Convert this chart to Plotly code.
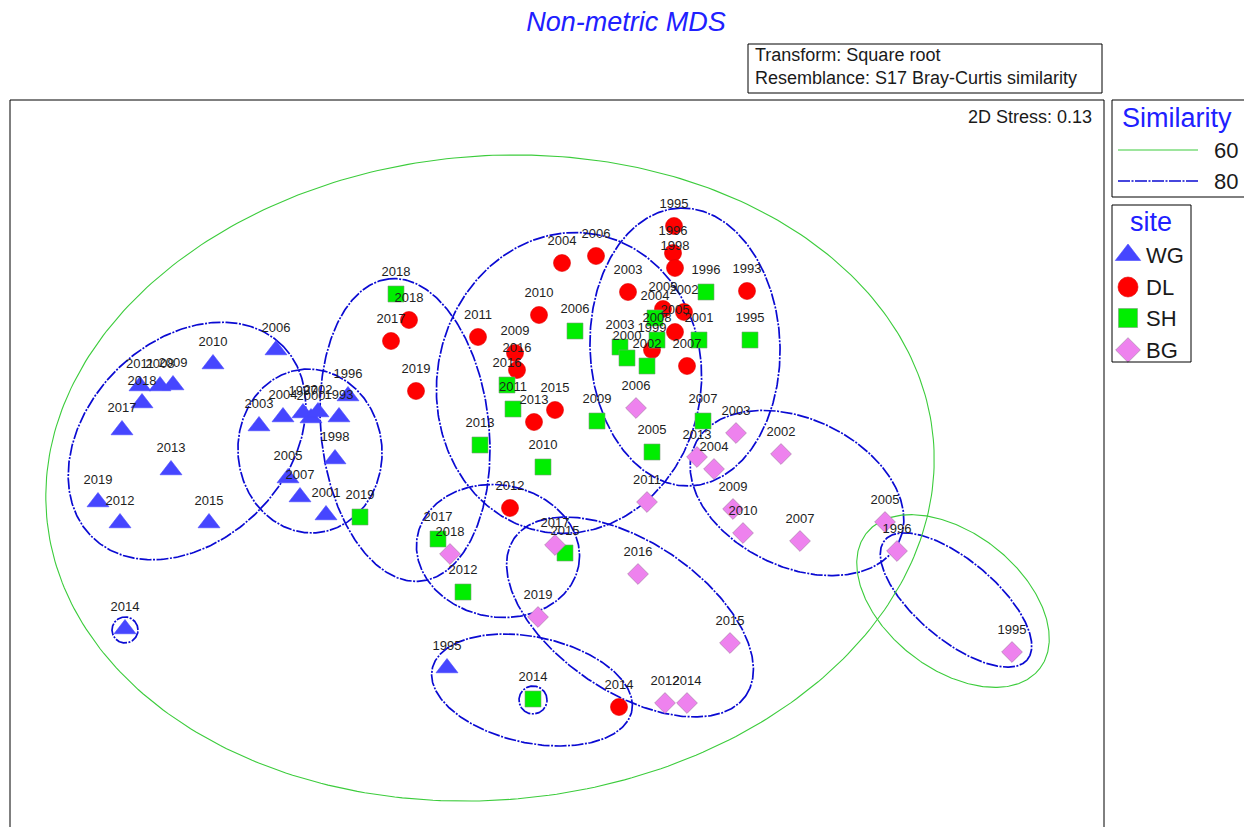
import numpy as np
import plotly.graph_objects as go

# ---- sample positions in the MDS plane (axis units = screen pixels of the original plot) ----
wg_x = [276, 213, 140, 160, 173, 142, 122, 171, 98, 120, 209, 259, 283, 303, 311, 318, 348, 339, 335, 288, 300, 326, 125, 447]
wg_y = [350, 364, 386, 386, 385, 403, 430, 470, 502, 523, 523, 426, 417, 413, 418, 412, 396, 417, 459, 478, 497, 515, 629, 668]
wg_lab = ['2006', '2010', '2011', '2008', '2009', '2018', '2017', '2013', '2019', '2012', '2015', '2003', '2004', '1997',
          '2000', '2002', '1996', '1993', '1998', '2005', '2007', '2001', '2014', '1995']

dl_x = [674, 673, 675, 596, 562, 628, 747, 539, 409, 391, 478, 515, 517, 416, 555, 534, 510, 619, 663, 684, 675, 652, 687]
dl_y = [226, 253, 268, 256, 263, 292, 291, 315, 320, 341, 337, 353, 370, 391, 410, 422, 508, 707, 309, 312, 332, 350, 366]
dl_lab = ['1995', '1996', '1998', '2006', '2004', '2003', '1993', '2010', '2018', '2017', '2011', '2009', '2016', '2019',
          '2015', '2013', '2012', '2014', '2009', '2002', '2005', '1999', '2007']

sh_x = [396, 706, 575, 750, 699, 620, 627, 647, 657, 655, 507, 513, 597, 480, 543, 703, 652, 360, 438, 565, 463, 533]
sh_y = [294, 292, 331, 340, 340, 347, 358, 366, 340, 318, 385, 409, 421, 445, 467, 421, 452, 517, 539, 553, 592, 699]
sh_lab = ['2018', '1996', '2006', '1995', '2001', '2003', '2000', '2002', '2008', '2004', '2016', '2011', '2009', '2013',
          '2010', '2007', '2005', '2019', '2017', '2015', '2012', '2014']

bg_x = [636, 736, 781, 697, 714, 647, 733, 743, 800, 885, 897, 1012, 555, 450, 638, 538, 730, 665, 687]
bg_y = [408, 433, 454, 457, 469, 502, 509, 533, 541, 522, 551, 652, 545, 554, 574, 617, 643, 703, 703]
bg_lab = ['2006', '2003', '2002', '2013', '2004', '2011', '2009', '2010', '2007', '2005', '1996', '1995', '2017', '2018',
          '2016', '2019', '2015', '2012', '2014']

# ---- similarity contours: centre, semi-axes, rotation (deg), level ----
ell_cx = [187, 310, 405, 569, 685, 797, 956, 532, 498, 630, 125, 533, 490, 953]
ell_cy = [441, 451, 430, 383, 347, 493, 600, 690, 551, 617, 630, 700, 478, 601]
ell_a = [135, 82, 152, 151, 139, 113, 93, 102, 82, 140, 13, 14, 445, 110]
ell_b = [100, 72, 84, 132, 95, 74, 40, 53, 66, 75, 13, 14, 322, 68]
ell_ang = [45, 95, 96, 80, 92, -25.5, -40, -12, -10, -34, 0, 0, 5, -38]
ell_level = [80, 80, 80, 80, 80, 80, 80, 80, 80, 80, 80, 80, 60, 60]

FONT = "Liberation Sans, Arial, sans-serif"
BLUE_LINE = "#0a0ad2"
GREEN_LINE = "#3ccc3c"
TITLE_BLUE = "#2020ff"
DASH = "12px,1.5px,2px,1.5px"

# the page body adds an 8 px margin, so the figure sits at (8, 8)
OFF = 8
W, H = 1252 - OFF, 827 - OFF

fig = go.Figure()

t = np.linspace(0, 2 * np.pi, 361)
for cx, cy, a, b, ang, lev in zip(ell_cx, ell_cy, ell_a, ell_b, ell_ang, ell_level):
    phi = np.radians(ang)
    ex = cx + a * np.cos(phi) * np.cos(t) - b * np.sin(phi) * np.sin(t)
    ey = cy - (a * np.sin(phi) * np.cos(t) + b * np.cos(phi) * np.sin(t))
    if lev == 80:
        line = dict(color=BLUE_LINE, width=1.7, dash=DASH)
    else:
        line = dict(color=GREEN_LINE, width=1.1)
    fig.add_trace(go.Scatter(x=ex, y=ey, mode="lines", line=line, hoverinfo="skip", showlegend=False))

sites = [
    (wg_x, wg_y, wg_lab, "triangle-up", 19, "#4646ff", "#4646ff"),
    (dl_x, dl_y, dl_lab, "circle", 17, "#ff0000", "#e00000"),
    (sh_x, sh_y, sh_lab, "square", 16, "#00ee00", "#7a9a7a"),
    (bg_x, bg_y, bg_lab, "diamond", 16, "#ee82ee", "#a080a0"),
]
for xs, ys, labs, sym, size, col, edge in sites:
    fig.add_trace(go.Scatter(
        x=xs, y=ys, mode="markers",
        marker=dict(symbol=sym, size=size, color=col, line=dict(color=edge, width=0.6)),
        showlegend=False, hoverinfo="skip"))
for xs, ys, labs, sym, size, col, edge in sites:
    fig.add_trace(go.Scatter(
        x=xs, y=[v - 21 for v in ys], mode="text", text=labs,
        textfont=dict(family=FONT, size=13, color="#1e1e1e"),
        showlegend=False, hoverinfo="skip"))

# site legend markers
leg_y = [255, 287, 318, 350]
for (xs, ys, labs, sym, size, col, edge), ly in zip(sites, leg_y):
    fig.add_trace(go.Scatter(
        x=[1128], y=[ly], mode="markers",
        marker=dict(symbol=sym, size=size + 3, color=col, line=dict(color=edge, width=0.6)),
        showlegend=False, hoverinfo="skip"))

shapes = [
    # plot frame (bottom edge lies outside the view)
    dict(type="line", x0=10, x1=10, y0=100, y1=840, line=dict(color="black", width=1)),
    dict(type="line", x0=10, x1=1104, y0=100, y1=100, line=dict(color="black", width=1)),
    dict(type="line", x0=1104, x1=1104, y0=100, y1=840, line=dict(color="black", width=1)),
    # info box
    dict(type="rect", x0=748, x1=1102, y0=44, y1=93, line=dict(color="black", width=1)),
    # similarity legend
    dict(type="rect", x0=1112, x1=1245, y0=100, y1=197, line=dict(color="black", width=1)),
    dict(type="line", x0=1118, x1=1198, y0=150, y1=150, line=dict(color=GREEN_LINE, width=1.1)),
    dict(type="line", x0=1118, x1=1198, y0=181, y1=181, line=dict(color=BLUE_LINE, width=1.7, dash=DASH)),
    # site legend
    dict(type="rect", x0=1112, x1=1191, y0=205, y1=362, line=dict(color="black", width=1)),
]
for s in shapes:
    s.update(xref="x", yref="y", layer="above")

annotations = [
    dict(x=753, y=55, text="Transform: Square root", xanchor="left", font=dict(size=18)),
    dict(x=753, y=78, text="Resemblance: S17 Bray-Curtis similarity", xanchor="left", font=dict(size=18)),
    dict(x=1094, y=117, text="2D Stress: 0.13", xanchor="right", font=dict(size=18)),
    dict(x=1177, y=118, text="Similarity", font=dict(size=27, color=TITLE_BLUE)),
    dict(x=1212, y=150, text="60", xanchor="left", font=dict(size=22)),
    dict(x=1212, y=181, text="80", xanchor="left", font=dict(size=22)),
    dict(x=1151, y=222, text="site", font=dict(size=27, color=TITLE_BLUE)),
]
for lab, ly in zip(["WG", "DL", "SH", "BG"], leg_y):
    annotations.append(dict(x=1144, y=ly, text=lab, xanchor="left", font=dict(size=22)))
for an in annotations:
    an.setdefault("xanchor", "center")
    an.update(xref="x", yref="y", showarrow=False, yanchor="middle")
    an["font"] = dict(family=FONT, color=an["font"].get("color", "#1a1a1a"), size=an["font"]["size"])

fig.update_layout(
    width=W, height=H,
    margin=dict(l=0, r=0, t=0, b=0),
    paper_bgcolor="white", plot_bgcolor="white",
    title=dict(text="<i>Non-metric MDS</i>", x=(626 - OFF) / W, xref="container",
               y=1 - (22 - OFF) / H, yref="container", xanchor="center", yanchor="middle",
               font=dict(family=FONT, size=27, color=TITLE_BLUE)),
    xaxis=dict(range=[OFF, 1252], visible=False, fixedrange=True),
    yaxis=dict(range=[827, OFF], visible=False, fixedrange=True),
    shapes=shapes,
    annotations=annotations,
    showlegend=False,
)

fig.write_html("out.html")
